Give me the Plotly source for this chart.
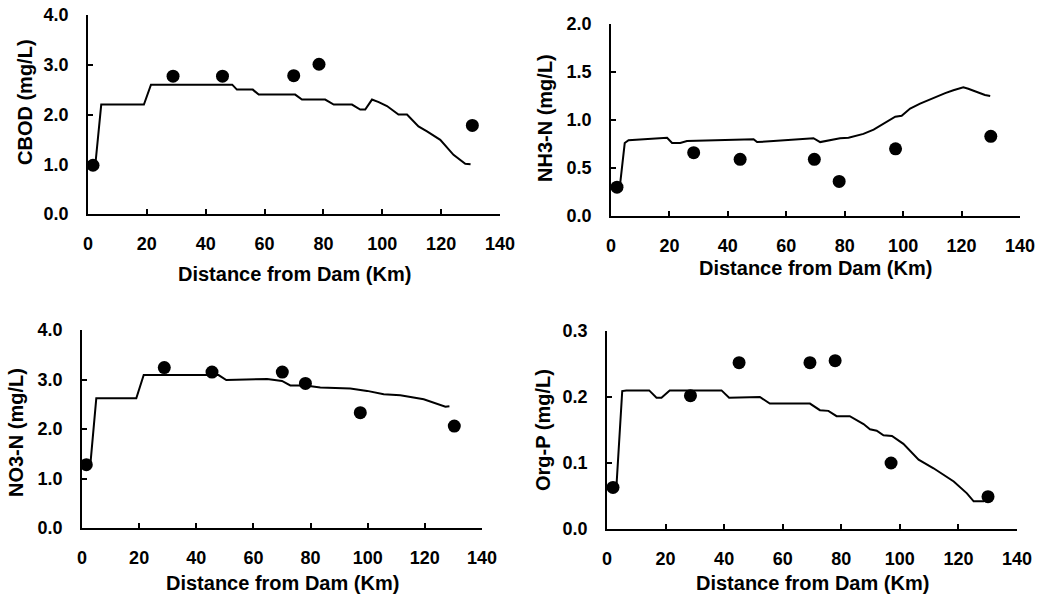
import plotly.graph_objects as go
from plotly.subplots import make_subplots

# model output (line) and observed values (dots), distance from dam in km
cbod_line_x = [0.8, 2.5, 4.5, 19, 21.4, 49, 50.6, 56, 58, 70.4, 72.7, 80.6, 83.5, 89.7, 92.5, 94.2,
               96.5, 98.8, 101.6, 105.5, 108.4, 112.3, 115.2, 119.7, 124.2, 128.2, 130]
cbod_line_y = [1.0, 1.0, 2.2, 2.2, 2.6, 2.6, 2.5, 2.5, 2.4, 2.4, 2.3, 2.3, 2.2, 2.2, 2.1, 2.1,
               2.3, 2.25, 2.17, 2.0, 2.0, 1.76, 1.66, 1.49, 1.19, 1.01, 1.0]
cbod_obs_x = [1.7, 28.9, 45.7, 69.9, 78.5, 130.6]
cbod_obs_y = [0.98, 2.77, 2.77, 2.78, 3.01, 1.78]

nh3_line_x = [1, 3, 4.7, 6, 19.2, 20.9, 23.7, 26, 48.8, 50, 55.6, 69.3, 71.6, 75, 78.4, 81.3, 83,
              86.4, 89.9, 93.3, 97.3, 99.5, 102.4, 105.8, 110.4, 114.4, 117.2, 120.6, 122.3,
              125.2, 128, 129.8]
nh3_line_y = [0.3, 0.3, 0.76, 0.79, 0.815, 0.76, 0.76, 0.78, 0.8, 0.77, 0.78, 0.81, 0.77, 0.79,
              0.81, 0.815, 0.83, 0.855, 0.9, 0.96, 1.035, 1.045, 1.12, 1.17, 1.23, 1.28, 1.31,
              1.34, 1.325, 1.29, 1.26, 1.25]
nh3_obs_x = [2.05, 28.3, 44.2, 69.6, 78.1, 97.4, 130]
nh3_obs_y = [0.30, 0.66, 0.59, 0.59, 0.36, 0.70, 0.83]

no3_line_x = [1, 2.9, 5, 19, 21.6, 47.8, 50.5, 64.8, 70, 72.9, 78.2, 83.4, 93.9, 99.8, 105.6,
              111.4, 119.6, 124.3, 127.2, 128.6]
no3_line_y = [1.27, 1.27, 2.62, 2.62, 3.09, 3.09, 2.99, 3.01, 2.97, 2.88, 2.88, 2.84, 2.82, 2.77,
              2.7, 2.68, 2.6, 2.5, 2.45, 2.46]
no3_obs_x = [1.5, 28.8, 45.5, 70.1, 78.2, 97.4, 130.3]
no3_obs_y = [1.28, 3.24, 3.15, 3.15, 2.92, 2.33, 2.06]

orgp_line_x = [1, 3.2, 5.2, 6.6, 14.4, 16.9, 18.6, 21.4, 39.1, 41.7, 52.2, 55.6, 69.3, 72.7, 75.6,
               78.4, 82.9, 87.6, 89.8, 92.1, 94.4, 97.3, 101.2, 106.4, 111.5, 118.4, 122.9,
               125.2, 128.6, 129.7]
orgp_line_y = [0.063, 0.063, 0.209, 0.21, 0.21, 0.199, 0.199, 0.21, 0.21, 0.199, 0.2, 0.19, 0.19,
               0.18, 0.179, 0.171, 0.171, 0.159, 0.151, 0.149, 0.142, 0.141, 0.129, 0.105, 0.092,
               0.072, 0.054, 0.042, 0.042, 0.045]
orgp_obs_x = [2.05, 28.5, 45.1, 69.3, 77.9, 97, 130.1]
orgp_obs_y = [0.063, 0.202, 0.252, 0.252, 0.255, 0.10, 0.049]

panels = [
    (cbod_line_x, cbod_line_y, cbod_obs_x, cbod_obs_y, "CBOD (mg/L)", [0, 4], 1.0),
    (nh3_line_x, nh3_line_y, nh3_obs_x, nh3_obs_y, "NH3-N (mg/L)", [0, 2], 0.5),
    (no3_line_x, no3_line_y, no3_obs_x, no3_obs_y, "NO3-N (mg/L)", [0, 4], 1.0),
    (orgp_line_x, orgp_line_y, orgp_obs_x, orgp_obs_y, "Org-P (mg/L)", [0, 0.3], 0.1),
]

# pixel boxes of each plot area (left, right, top, bottom) in the 1037x597 window
W, H = 1037, 597
boxes = [(88, 500, 15, 214), (611, 1020, 24, 216), (82, 482, 330, 528), (607, 1017, 331, 529)]
ytitle_x = [25, 545, 16, 543]      # centre of the rotated y titles
ytitle_y = [102, 118, 433, 430]
xtitle_off = [60, 52, 55, 54]      # x title centre below the axis line

FONT = "Liberation Sans, Arial, sans-serif"


def px(x):
    return x / W


def py(y):
    return 1 - y / H


fig = make_subplots(rows=2, cols=2)

for i, (lx, ly, ox, oy, ytitle, yr, dt) in enumerate(panels):
    r, c = i // 2 + 1, i % 2 + 1
    fig.add_trace(go.Scatter(x=lx, y=ly, mode="lines",
                             line=dict(color="black", width=2),
                             hoverinfo="none"), row=r, col=c)
    fig.add_trace(go.Scatter(x=ox, y=oy, mode="markers",
                             marker=dict(symbol="circle", size=13, color="black"),
                             hoverinfo="x+y"), row=r, col=c)

    L, R, T, B = boxes[i]
    # automargin off: otherwise edge tick labels push the margins and squash the panels
    fig.update_xaxes(domain=[px(L), px(R)], range=[0, 140], dtick=20, tick0=0,
                     automargin=False, ticklabeloverflow="allow",
                     showline=True, linecolor="black", linewidth=1.5,
                     ticks="inside", ticklen=5, tickcolor="black", tickwidth=1.5,
                     showgrid=False, zeroline=False, ticklabelstandoff=13,
                     tickfont=dict(family=FONT, size=18, color="black", weight="bold"),
                     row=r, col=c)
    fig.update_yaxes(domain=[py(B), py(T)], range=yr, dtick=dt, tick0=0, tickformat=".1f",
                     automargin=False, ticklabeloverflow="allow",
                     showline=True, linecolor="black", linewidth=1.5,
                     ticks="inside", ticklen=5, tickcolor="black", tickwidth=1.5,
                     showgrid=False, zeroline=False, ticklabelstandoff=14,
                     tickfont=dict(family=FONT, size=18, color="black", weight="bold"),
                     row=r, col=c)

    # axis titles as annotations so they sit where the original put them
    fig.add_annotation(text="Distance from Dam (Km)", xref="paper", yref="paper",
                       x=px((L + R) / 2), y=py(B + xtitle_off[i]),
                       showarrow=False, xanchor="center", yanchor="middle",
                       font=dict(family=FONT, size=20, color="black", weight="bold"))
    fig.add_annotation(text=ytitle, xref="paper", yref="paper",
                       x=px(ytitle_x[i]), y=py(ytitle_y[i]),
                       textangle=-90, showarrow=False, xanchor="center", yanchor="middle",
                       font=dict(family=FONT, size=20, color="black", weight="bold"))

fig.update_layout(width=W, height=H, margin=dict(l=0, r=0, t=0, b=0),
                  showlegend=False, plot_bgcolor="white", paper_bgcolor="white",
                  font=dict(family=FONT, color="black"))

# drop the default 8px body margin so the figure fills the window exactly
fig.write_html("out.html", config={"displayModeBar": False},
               post_script="document.body.style.margin = '0';")
